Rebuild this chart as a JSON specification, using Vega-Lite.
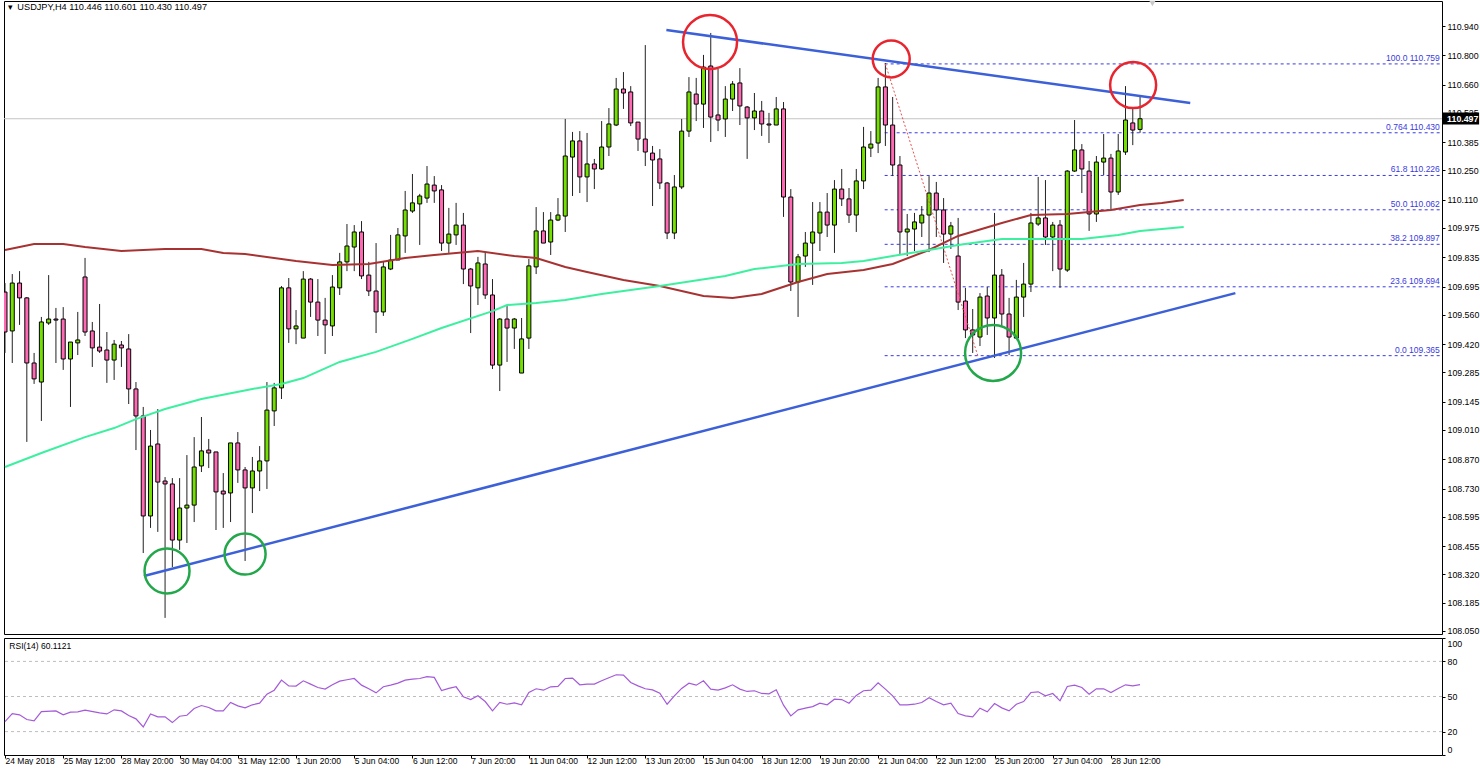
{
  "$schema": "https://vega.github.io/schema/vega-lite/v6.json",
  "background": "#ffffff",
  "padding": {"left": 0, "top": 0, "right": 0, "bottom": 0},
  "spacing": 0,
  "config": {
    "view": {"stroke": "#000000", "strokeWidth": 1},
    "font": "Liberation Sans",
    "axis": {"labelFont": "Liberation Sans", "labelColor": "#000000", "domainColor": "#000000", "tickColor": "#000000", "grid": false, "title": null, "labelOverlap": false},
    "text": {"font": "Liberation Sans"}
  },
  "datasets": {
    "candles": [
      {"i":0,"o":109.669,"h":109.712,"l":109.378,"c":109.478},
      {"i":1,"o":109.483,"h":109.755,"l":109.330,"c":109.712},
      {"i":2,"o":109.712,"h":109.769,"l":109.512,"c":109.641},
      {"i":3,"o":109.641,"h":109.645,"l":108.953,"c":109.330},
      {"i":4,"o":109.330,"h":109.378,"l":109.230,"c":109.254},
      {"i":5,"o":109.239,"h":109.550,"l":109.053,"c":109.526},
      {"i":6,"o":109.521,"h":109.750,"l":109.512,"c":109.540},
      {"i":7,"o":109.540,"h":109.593,"l":109.330,"c":109.535},
      {"i":8,"o":109.540,"h":109.597,"l":109.297,"c":109.349},
      {"i":9,"o":109.349,"h":109.430,"l":109.120,"c":109.430},
      {"i":10,"o":109.426,"h":109.574,"l":109.368,"c":109.440},
      {"i":11,"o":109.741,"h":109.832,"l":109.459,"c":109.478},
      {"i":12,"o":109.483,"h":109.526,"l":109.311,"c":109.402},
      {"i":13,"o":109.406,"h":109.612,"l":109.378,"c":109.387},
      {"i":14,"o":109.392,"h":109.478,"l":109.235,"c":109.344},
      {"i":15,"o":109.344,"h":109.440,"l":109.249,"c":109.420},
      {"i":16,"o":109.416,"h":109.435,"l":109.311,"c":109.402},
      {"i":17,"o":109.397,"h":109.468,"l":109.134,"c":109.206},
      {"i":18,"o":109.206,"h":109.239,"l":108.914,"c":109.077},
      {"i":19,"o":109.077,"h":109.120,"l":108.422,"c":108.599},
      {"i":20,"o":108.599,"h":109.010,"l":108.542,"c":108.933},
      {"i":21,"o":108.943,"h":109.110,"l":108.523,"c":108.761},
      {"i":22,"o":108.766,"h":108.785,"l":108.112,"c":108.752},
      {"i":23,"o":108.752,"h":108.780,"l":108.355,"c":108.484},
      {"i":24,"o":108.484,"h":108.780,"l":108.437,"c":108.637},
      {"i":25,"o":108.637,"h":108.890,"l":108.470,"c":108.651},
      {"i":26,"o":108.651,"h":108.976,"l":108.570,"c":108.833},
      {"i":27,"o":108.838,"h":109.072,"l":108.809,"c":108.910},
      {"i":28,"o":108.914,"h":108.967,"l":108.828,"c":108.900},
      {"i":29,"o":108.905,"h":108.905,"l":108.532,"c":108.714},
      {"i":30,"o":108.718,"h":108.804,"l":108.542,"c":108.704},
      {"i":31,"o":108.709,"h":108.948,"l":108.570,"c":108.948},
      {"i":32,"o":108.948,"h":109.000,"l":108.757,"c":108.819},
      {"i":33,"o":108.819,"h":108.833,"l":108.384,"c":108.733},
      {"i":34,"o":108.733,"h":108.881,"l":108.613,"c":108.814},
      {"i":35,"o":108.814,"h":108.933,"l":108.718,"c":108.862},
      {"i":36,"o":108.862,"h":109.239,"l":108.728,"c":109.105},
      {"i":37,"o":109.101,"h":109.235,"l":109.029,"c":109.211},
      {"i":38,"o":109.211,"h":109.698,"l":109.158,"c":109.689},
      {"i":39,"o":109.689,"h":109.736,"l":109.426,"c":109.493},
      {"i":40,"o":109.493,"h":109.583,"l":109.420,"c":109.507},
      {"i":41,"o":109.449,"h":109.769,"l":109.449,"c":109.731},
      {"i":42,"o":109.731,"h":109.736,"l":109.550,"c":109.621},
      {"i":43,"o":109.621,"h":109.731,"l":109.459,"c":109.535},
      {"i":44,"o":109.535,"h":109.641,"l":109.373,"c":109.512},
      {"i":45,"o":109.507,"h":109.750,"l":109.459,"c":109.693},
      {"i":46,"o":109.689,"h":109.856,"l":109.655,"c":109.813},
      {"i":47,"o":109.813,"h":109.994,"l":109.769,"c":109.889},
      {"i":48,"o":109.884,"h":109.989,"l":109.769,"c":109.956},
      {"i":49,"o":109.956,"h":110.008,"l":109.731,"c":109.746},
      {"i":50,"o":109.750,"h":109.813,"l":109.650,"c":109.674},
      {"i":51,"o":109.674,"h":109.903,"l":109.473,"c":109.574},
      {"i":52,"o":109.574,"h":109.813,"l":109.555,"c":109.789},
      {"i":53,"o":109.779,"h":109.942,"l":109.774,"c":109.822},
      {"i":54,"o":109.822,"h":109.975,"l":109.822,"c":109.942},
      {"i":55,"o":109.937,"h":110.152,"l":109.856,"c":110.061},
      {"i":56,"o":110.056,"h":110.233,"l":110.047,"c":110.095},
      {"i":57,"o":110.090,"h":110.138,"l":109.894,"c":110.128},
      {"i":58,"o":110.118,"h":110.271,"l":110.095,"c":110.185},
      {"i":59,"o":110.180,"h":110.223,"l":110.095,"c":110.152},
      {"i":60,"o":110.157,"h":110.180,"l":109.865,"c":109.903},
      {"i":61,"o":109.903,"h":110.071,"l":109.856,"c":109.946},
      {"i":62,"o":109.942,"h":110.095,"l":109.894,"c":109.989},
      {"i":63,"o":109.989,"h":110.047,"l":109.707,"c":109.779},
      {"i":64,"o":109.779,"h":109.784,"l":109.473,"c":109.698},
      {"i":65,"o":109.689,"h":109.837,"l":109.607,"c":109.808},
      {"i":66,"o":109.803,"h":109.860,"l":109.636,"c":109.655},
      {"i":67,"o":109.655,"h":109.731,"l":109.301,"c":109.320},
      {"i":68,"o":109.320,"h":109.545,"l":109.196,"c":109.540},
      {"i":69,"o":109.540,"h":109.602,"l":109.335,"c":109.497},
      {"i":70,"o":109.497,"h":109.545,"l":109.397,"c":109.540},
      {"i":71,"o":109.282,"h":109.545,"l":109.282,"c":109.445},
      {"i":72,"o":109.449,"h":109.827,"l":109.397,"c":109.794},
      {"i":73,"o":109.789,"h":110.075,"l":109.755,"c":109.961},
      {"i":74,"o":109.961,"h":110.051,"l":109.903,"c":109.903},
      {"i":75,"o":109.908,"h":110.051,"l":109.846,"c":110.013},
      {"i":76,"o":110.013,"h":110.118,"l":110.008,"c":110.037},
      {"i":77,"o":110.032,"h":110.496,"l":109.956,"c":110.319},
      {"i":78,"o":110.314,"h":110.434,"l":110.128,"c":110.391},
      {"i":79,"o":110.391,"h":110.438,"l":110.142,"c":110.219},
      {"i":80,"o":110.219,"h":110.429,"l":110.099,"c":110.281},
      {"i":81,"o":110.281,"h":110.305,"l":110.161,"c":110.257},
      {"i":82,"o":110.257,"h":110.486,"l":110.252,"c":110.362},
      {"i":83,"o":110.362,"h":110.548,"l":110.319,"c":110.472},
      {"i":84,"o":110.467,"h":110.692,"l":110.462,"c":110.639},
      {"i":85,"o":110.639,"h":110.720,"l":110.544,"c":110.620},
      {"i":86,"o":110.625,"h":110.653,"l":110.462,"c":110.477},
      {"i":87,"o":110.481,"h":110.481,"l":110.343,"c":110.400},
      {"i":88,"o":110.400,"h":110.849,"l":110.271,"c":110.338},
      {"i":89,"o":110.333,"h":110.367,"l":110.080,"c":110.300},
      {"i":90,"o":110.305,"h":110.352,"l":110.161,"c":110.190},
      {"i":91,"o":110.190,"h":110.195,"l":109.922,"c":109.951},
      {"i":92,"o":109.951,"h":110.228,"l":109.922,"c":110.171},
      {"i":93,"o":110.171,"h":110.496,"l":110.161,"c":110.438},
      {"i":94,"o":110.438,"h":110.696,"l":110.410,"c":110.625},
      {"i":95,"o":110.615,"h":110.692,"l":110.486,"c":110.567},
      {"i":96,"o":110.567,"h":110.802,"l":110.453,"c":110.744},
      {"i":97,"o":110.749,"h":110.907,"l":110.386,"c":110.505},
      {"i":98,"o":110.515,"h":110.735,"l":110.438,"c":110.491},
      {"i":99,"o":110.496,"h":110.653,"l":110.410,"c":110.591},
      {"i":100,"o":110.591,"h":110.677,"l":110.534,"c":110.663},
      {"i":101,"o":110.668,"h":110.739,"l":110.467,"c":110.558},
      {"i":102,"o":110.553,"h":110.558,"l":110.305,"c":110.501},
      {"i":103,"o":110.501,"h":110.620,"l":110.443,"c":110.534},
      {"i":104,"o":110.534,"h":110.582,"l":110.415,"c":110.472},
      {"i":105,"o":110.472,"h":110.525,"l":110.381,"c":110.467},
      {"i":106,"o":110.467,"h":110.601,"l":110.467,"c":110.544},
      {"i":107,"o":110.544,"h":110.577,"l":110.028,"c":110.123},
      {"i":108,"o":110.123,"h":110.161,"l":109.674,"c":109.717},
      {"i":109,"o":109.717,"h":109.851,"l":109.550,"c":109.837},
      {"i":110,"o":109.841,"h":109.956,"l":109.789,"c":109.903},
      {"i":111,"o":109.903,"h":110.099,"l":109.703,"c":109.956},
      {"i":112,"o":109.951,"h":110.099,"l":109.865,"c":110.051},
      {"i":113,"o":110.051,"h":110.142,"l":109.932,"c":109.989},
      {"i":114,"o":109.989,"h":110.204,"l":109.856,"c":110.161},
      {"i":115,"o":110.161,"h":110.257,"l":110.080,"c":110.114},
      {"i":116,"o":110.114,"h":110.166,"l":109.999,"c":110.037},
      {"i":117,"o":110.037,"h":110.257,"l":109.956,"c":110.200},
      {"i":118,"o":110.200,"h":110.458,"l":110.161,"c":110.362},
      {"i":119,"o":110.357,"h":110.438,"l":110.314,"c":110.376},
      {"i":120,"o":110.381,"h":110.692,"l":110.333,"c":110.649},
      {"i":121,"o":110.649,"h":110.763,"l":110.367,"c":110.467},
      {"i":122,"o":110.467,"h":110.601,"l":110.223,"c":110.276},
      {"i":123,"o":110.276,"h":110.319,"l":109.851,"c":109.956},
      {"i":124,"o":109.956,"h":110.042,"l":109.841,"c":109.970},
      {"i":125,"o":109.970,"h":110.047,"l":109.865,"c":110.004},
      {"i":126,"o":109.999,"h":110.080,"l":109.932,"c":110.037},
      {"i":127,"o":110.037,"h":110.223,"l":109.860,"c":110.142},
      {"i":128,"o":110.142,"h":110.195,"l":109.932,"c":110.061},
      {"i":129,"o":110.061,"h":110.118,"l":109.808,"c":109.946},
      {"i":130,"o":109.946,"h":110.004,"l":109.875,"c":109.985},
      {"i":131,"o":109.841,"h":110.023,"l":109.583,"c":109.621},
      {"i":132,"o":109.626,"h":109.689,"l":109.449,"c":109.488},
      {"i":133,"o":109.488,"h":109.588,"l":109.378,"c":109.464},
      {"i":134,"o":109.454,"h":109.664,"l":109.411,"c":109.645},
      {"i":135,"o":109.650,"h":109.693,"l":109.464,"c":109.545},
      {"i":136,"o":109.545,"h":110.047,"l":109.354,"c":109.750},
      {"i":137,"o":109.750,"h":109.779,"l":109.502,"c":109.564},
      {"i":138,"o":109.564,"h":109.641,"l":109.368,"c":109.454},
      {"i":139,"o":109.449,"h":109.727,"l":109.449,"c":109.645},
      {"i":140,"o":109.645,"h":109.808,"l":109.550,"c":109.707},
      {"i":141,"o":109.707,"h":110.047,"l":109.669,"c":109.999},
      {"i":142,"o":109.994,"h":110.219,"l":109.985,"c":110.023},
      {"i":143,"o":110.023,"h":110.204,"l":109.894,"c":109.932},
      {"i":144,"o":109.932,"h":110.004,"l":109.769,"c":109.989},
      {"i":145,"o":109.989,"h":110.013,"l":109.689,"c":109.779},
      {"i":146,"o":109.774,"h":110.252,"l":109.765,"c":110.247},
      {"i":147,"o":110.247,"h":110.491,"l":110.243,"c":110.348},
      {"i":148,"o":110.348,"h":110.376,"l":110.142,"c":110.257},
      {"i":149,"o":110.247,"h":110.295,"l":109.961,"c":110.042},
      {"i":150,"o":110.042,"h":110.319,"l":110.004,"c":110.290},
      {"i":151,"o":110.290,"h":110.424,"l":110.228,"c":110.309},
      {"i":152,"o":110.309,"h":110.329,"l":110.061,"c":110.147},
      {"i":153,"o":110.147,"h":110.424,"l":110.133,"c":110.343},
      {"i":154,"o":110.338,"h":110.653,"l":110.324,"c":110.491},
      {"i":155,"o":110.477,"h":110.544,"l":110.371,"c":110.443},
      {"i":156,"o":110.446,"h":110.601,"l":110.430,"c":110.497}
    ],
    "averages": [
      {"s":"slow","i":0,"p":109.870},{"s":"slow","i":4,"p":109.899},{"s":"slow","i":8,"p":109.899},{"s":"slow","i":11,"p":109.884},{"s":"slow","i":16,"p":109.865},{"s":"slow","i":22,"p":109.875},{"s":"slow","i":27,"p":109.875},{"s":"slow","i":30,"p":109.856},{"s":"slow","i":33,"p":109.851},{"s":"slow","i":40,"p":109.817},{"s":"slow","i":45,"p":109.798},{"s":"slow","i":50,"p":109.803},{"s":"slow","i":55,"p":109.832},{"s":"slow","i":59,"p":109.846},{"s":"slow","i":65,"p":109.865},{"s":"slow","i":70,"p":109.841},{"s":"slow","i":73,"p":109.832},{"s":"slow","i":77,"p":109.789},{"s":"slow","i":80,"p":109.765},{"s":"slow","i":85,"p":109.727},{"s":"slow","i":90,"p":109.698},{"s":"slow","i":96,"p":109.650},{"s":"slow","i":100,"p":109.641},{"s":"slow","i":104,"p":109.660},{"s":"slow","i":109,"p":109.717},{"s":"slow","i":113,"p":109.755},{"s":"slow","i":118,"p":109.774},{"s":"slow","i":122,"p":109.803},{"s":"slow","i":127,"p":109.870},{"s":"slow","i":131,"p":109.937},{"s":"slow","i":137,"p":109.999},{"s":"slow","i":141,"p":110.037},{"s":"slow","i":146,"p":110.042},{"s":"slow","i":152,"p":110.061},{"s":"slow","i":156,"p":110.085},{"s":"slow","i":159,"p":110.095},{"s":"slow","i":162,"p":110.109},
      {"s":"fast","i":0,"p":108.833},{"s":"fast","i":5,"p":108.900},{"s":"fast","i":11,"p":108.976},{"s":"fast","i":15,"p":109.019},{"s":"fast","i":18,"p":109.062},{"s":"fast","i":22,"p":109.110},{"s":"fast","i":27,"p":109.158},{"s":"fast","i":34,"p":109.206},{"s":"fast","i":38,"p":109.230},{"s":"fast","i":41,"p":109.258},{"s":"fast","i":46,"p":109.335},{"s":"fast","i":51,"p":109.383},{"s":"fast","i":56,"p":109.445},{"s":"fast","i":60,"p":109.497},{"s":"fast","i":67,"p":109.578},{"s":"fast","i":69,"p":109.607},{"s":"fast","i":73,"p":109.617},{"s":"fast","i":77,"p":109.631},{"s":"fast","i":82,"p":109.660},{"s":"fast","i":90,"p":109.698},{"s":"fast","i":99,"p":109.746},{"s":"fast","i":103,"p":109.779},{"s":"fast","i":109,"p":109.803},{"s":"fast","i":115,"p":109.808},{"s":"fast","i":118,"p":109.817},{"s":"fast","i":122,"p":109.841},{"s":"fast","i":127,"p":109.870},{"s":"fast","i":131,"p":109.894},{"s":"fast","i":137,"p":109.922},{"s":"fast","i":148,"p":109.922},{"s":"fast","i":153,"p":109.942},{"s":"fast","i":156,"p":109.961},{"s":"fast","i":162,"p":109.980}
    ],
    "trendlines": [
      {"s":"support","i":19.1,"p":108.312},{"s":"support","i":169.1,"p":109.664},
      {"s":"resistance","i":90.9,"p":110.921},{"s":"resistance","i":162.9,"p":110.572}
    ],
    "circles": [
      {"c":"r1","i":96.9,"p":110.864},
      {"c":"r2","i":121.8,"p":110.783},
      {"c":"r3","i":155.05,"p":110.658},
      {"c":"g1","i":22.27,"p":108.336},
      {"c":"g2","i":33,"p":108.417},
      {"c":"g3","i":135.8,"p":109.378}
    ],
    "fib": [
      {"i":120.9,"end":197.2,"p":110.759,"label":"100.0 110.759"},
      {"i":120.9,"end":197.2,"p":110.430,"label":"0.764 110.430"},
      {"i":120.9,"end":197.2,"p":110.226,"label":"61.8 110.226"},
      {"i":120.9,"end":197.2,"p":110.062,"label":"50.0 110.062"},
      {"i":120.9,"end":197.2,"p":109.897,"label":"38.2 109.897"},
      {"i":120.9,"end":197.2,"p":109.694,"label":"23.6 109.694"},
      {"i":120.9,"end":197.2,"p":109.365,"label":"0.0 109.365"}
    ],
    "rsi": [
      {"i":0,"v":28.6},{"i":1,"v":35.4},{"i":2,"v":34.3},{"i":3,"v":30.3},{"i":4,"v":29.1},{"i":5,"v":37.1},{"i":7,"v":37.7},{"i":8,"v":34.3},{"i":9,"v":36.6},{"i":10,"v":36.9},{"i":11,"v":38.3},{"i":13,"v":36.0},{"i":14,"v":35.1},{"i":15,"v":38.6},{"i":16,"v":37.7},{"i":17,"v":33.7},{"i":18,"v":30.9},{"i":19,"v":24.0},{"i":20,"v":35.1},{"i":21,"v":32.6},{"i":22,"v":32.6},{"i":23,"v":27.7},{"i":24,"v":33.1},{"i":25,"v":34.0},{"i":26,"v":39.7},{"i":27,"v":42.3},{"i":28,"v":40.6},{"i":29,"v":37.7},{"i":30,"v":37.7},{"i":31,"v":44.9},{"i":32,"v":42.0},{"i":33,"v":40.3},{"i":34,"v":42.9},{"i":35,"v":44.3},{"i":36,"v":52.0},{"i":37,"v":55.4},{"i":38,"v":64.0},{"i":39,"v":59.1},{"i":40,"v":58.9},{"i":41,"v":63.4},{"i":42,"v":60.6},{"i":43,"v":57.7},{"i":44,"v":56.3},{"i":45,"v":60.0},{"i":46,"v":63.1},{"i":47,"v":64.3},{"i":48,"v":65.4},{"i":49,"v":59.7},{"i":50,"v":56.6},{"i":51,"v":53.1},{"i":52,"v":58.3},{"i":53,"v":59.7},{"i":54,"v":61.4},{"i":55,"v":64.0},{"i":56,"v":64.9},{"i":57,"v":65.4},{"i":58,"v":66.9},{"i":59,"v":66.3},{"i":60,"v":55.1},{"i":61,"v":56.9},{"i":62,"v":58.3},{"i":63,"v":49.7},{"i":64,"v":47.4},{"i":65,"v":50.6},{"i":66,"v":45.7},{"i":67,"v":37.7},{"i":68,"v":44.9},{"i":69,"v":43.4},{"i":70,"v":44.6},{"i":71,"v":42.9},{"i":72,"v":53.4},{"i":73,"v":56.6},{"i":74,"v":55.4},{"i":75,"v":58.3},{"i":76,"v":58.6},{"i":77,"v":65.4},{"i":78,"v":65.7},{"i":79,"v":60.0},{"i":80,"v":60.6},{"i":81,"v":60.6},{"i":82,"v":63.5},{"i":83,"v":66.0},{"i":84,"v":68.6},{"i":85,"v":68.3},{"i":86,"v":62.0},{"i":87,"v":59.1},{"i":88,"v":56.6},{"i":89,"v":55.7},{"i":90,"v":52.9},{"i":91,"v":43.4},{"i":92,"v":50.6},{"i":93,"v":56.9},{"i":94,"v":61.4},{"i":95,"v":59.7},{"i":96,"v":63.4},{"i":97,"v":56.3},{"i":98,"v":55.4},{"i":99,"v":57.4},{"i":100,"v":60.0},{"i":101,"v":56.3},{"i":102,"v":54.3},{"i":103,"v":54.9},{"i":104,"v":52.6},{"i":105,"v":52.3},{"i":106,"v":55.7},{"i":107,"v":42.6},{"i":108,"v":33.4},{"i":109,"v":38.6},{"i":110,"v":40.0},{"i":111,"v":41.4},{"i":112,"v":44.3},{"i":113,"v":42.9},{"i":114,"v":47.7},{"i":115,"v":47.4},{"i":116,"v":44.3},{"i":117,"v":50.9},{"i":118,"v":54.9},{"i":119,"v":55.4},{"i":120,"v":61.7},{"i":121,"v":56.3},{"i":122,"v":50.6},{"i":123,"v":42.9},{"i":124,"v":42.9},{"i":125,"v":43.4},{"i":126,"v":44.9},{"i":127,"v":48.9},{"i":128,"v":45.7},{"i":129,"v":42.9},{"i":130,"v":44.3},{"i":131,"v":35.4},{"i":132,"v":33.4},{"i":133,"v":32.6},{"i":134,"v":40.0},{"i":135,"v":36.9},{"i":136,"v":44.0},{"i":137,"v":40.3},{"i":138,"v":37.7},{"i":139,"v":43.4},{"i":140,"v":45.7},{"i":141,"v":53.4},{"i":142,"v":54.0},{"i":143,"v":50.6},{"i":144,"v":52.6},{"i":145,"v":46.3},{"i":146,"v":58.6},{"i":147,"v":59.7},{"i":148,"v":57.7},{"i":149,"v":52.0},{"i":150,"v":56.6},{"i":151,"v":56.6},{"i":152,"v":53.4},{"i":153,"v":56.9},{"i":154,"v":60.0},{"i":155,"v":59.1},{"i":156,"v":60.1121}
    ]
  },
  "vconcat": [
    {
      "width": 1438,
      "height": 633,
      "layer": [
        {
          "data": {"values": [{"p": 110.497}]},
          "mark": {"type": "rule", "color": "#c4c4c4", "strokeWidth": 1},
          "encoding": {
            "y": {
              "field": "p", "type": "quantitative",
              "scale": {"domain": [108.0351, 111.0596], "nice": false, "zero": false},
              "axis": {
                "orient": "right", "title": null, "domain": false, "tickSize": 3, "tickCount": 40, "labelFontSize": 8.8, "labelPadding": 2, "format": ".3f",
                "values": [110.94, 110.8, 110.66, 110.525, 110.385, 110.25, 110.11, 109.975, 109.835, 109.695, 109.56, 109.42, 109.285, 109.145, 109.01, 108.87, 108.73, 108.595, 108.455, 108.32, 108.185, 108.05]
              }
            }
          }
        },
        {
          "data": {"name": "fib"},
          "mark": {"type": "rule", "color": "#3a3ae0", "strokeWidth": 1, "strokeDash": [3, 3]},
          "encoding": {
            "x": {"field": "i", "type": "quantitative", "scale": {"domain": [-0.137, 197.5], "nice": false, "zero": false, "padding": 0}, "axis": null},
            "x2": {"field": "end"},
            "y": {"field": "p", "type": "quantitative"}
          }
        },
        {
          "data": {"name": "candles"},
          "mark": {"type": "rule", "color": "#222222", "strokeWidth": 1, "clip": true},
          "encoding": {
            "x": {"field": "i", "type": "quantitative", "axis": null},
            "y": {"field": "l", "type": "quantitative"},
            "y2": {"field": "h"}
          }
        },
        {
          "data": {"name": "candles"},
          "mark": {"type": "bar", "size": 4, "stroke": "#000000", "strokeWidth": 1, "orient": "vertical", "clip": true},
          "encoding": {
            "x": {"field": "i", "type": "quantitative", "axis": null},
            "y": {"field": "o", "type": "quantitative"},
            "y2": {"field": "c"},
            "color": {
              "condition": {"test": "datum.c > datum.o", "value": "#74e000"},
              "value": "#ff69b4"
            }
          }
        },
        {
          "data": {"values": [{"i": 121, "p": 110.759}, {"i": 133.7, "p": 109.365}]},
          "mark": {"type": "line", "color": "#e85050", "strokeWidth": 1, "strokeDash": [2, 2]},
          "encoding": {
            "x": {"field": "i", "type": "quantitative", "axis": null},
            "y": {"field": "p", "type": "quantitative"}
          }
        },
        {
          "data": {"name": "averages"},
          "mark": {"type": "line", "strokeWidth": 2},
          "encoding": {
            "x": {"field": "i", "type": "quantitative", "axis": null},
            "y": {"field": "p", "type": "quantitative"},
            "detail": {"field": "s"},
            "color": {"field": "s", "type": "nominal", "legend": null, "scale": {"domain": ["slow", "fast"], "range": ["#a83232", "#3df0a0"]}}
          }
        },
        {
          "data": {"name": "trendlines"},
          "mark": {"type": "line", "color": "#3c60d8", "strokeWidth": 2.5},
          "encoding": {
            "x": {"field": "i", "type": "quantitative", "axis": null},
            "y": {"field": "p", "type": "quantitative"},
            "detail": {"field": "s"}
          }
        },
        {
          "data": {"name": "circles"},
          "mark": {"type": "point", "shape": "circle", "filled": false, "strokeWidth": 2.5, "opacity": 1},
          "encoding": {
            "x": {"field": "i", "type": "quantitative", "axis": null},
            "y": {"field": "p", "type": "quantitative"},
            "stroke": {"field": "c", "type": "nominal", "legend": null, "scale": {"domain": ["r1", "r2", "r3", "g1", "g2", "g3"], "range": ["#e8252f", "#e8252f", "#e8252f", "#22a84a", "#22a84a", "#22a84a"]}},
            "size": {"field": "c", "type": "nominal", "legend": null, "scale": {"type": "ordinal", "domain": ["r1", "r2", "r3", "g1", "g2", "g3"], "range": [2916, 1369, 2116, 2025, 1681, 3136]}}
          }
        },
        {
          "data": {"name": "fib"},
          "mark": {"type": "text", "align": "right", "baseline": "bottom", "color": "#3a3ae0", "fontSize": 8.5, "dy": -1},
          "encoding": {
            "x": {"field": "end", "type": "quantitative", "axis": null},
            "y": {"field": "p", "type": "quantitative"},
            "text": {"field": "label"}
          }
        },
        {
          "data": {"values": [{"i": 1.7, "p": 111.031, "label": "USDJPY,H4  110.446 110.601 110.430 110.497"}, {"i": 0.45, "p": 111.031, "label": "▾"}]},
          "mark": {"type": "text", "align": "left", "baseline": "middle", "color": "#000000", "fontSize": 9.2},
          "encoding": {
            "x": {"field": "i", "type": "quantitative", "axis": null},
            "y": {"field": "p", "type": "quantitative"},
            "text": {"field": "label"}
          }
        },
        {
          "data": {"values": [{"i": 157.7, "p": 111.048}]},
          "mark": {"type": "point", "shape": "triangle-down", "filled": true, "color": "#c8c8c8", "size": 40, "opacity": 1},
          "encoding": {
            "x": {"field": "i", "type": "quantitative", "axis": null},
            "y": {"field": "p", "type": "quantitative"}
          }
        },
        {
          "data": {"values": [{"i": 197.6, "end": 202.6, "low": 110.469, "high": 110.527}]},
          "mark": {"type": "rect", "color": "#000000"},
          "encoding": {
            "x": {"field": "i", "type": "quantitative", "axis": null},
            "x2": {"field": "end"},
            "y": {"field": "low", "type": "quantitative"},
            "y2": {"field": "high"}
          }
        },
        {
          "data": {"values": [{"i": 198.2, "p": 110.497, "label": "110.497"}]},
          "mark": {"type": "text", "align": "left", "baseline": "middle", "color": "#ffffff", "fontSize": 8.8, "fontWeight": "bold"},
          "encoding": {
            "x": {"field": "i", "type": "quantitative", "axis": null},
            "y": {"field": "p", "type": "quantitative"},
            "text": {"field": "label"}
          }
        }
      ]
    },
    {
      "width": 1438,
      "height": 117,
      "layer": [
        {
          "data": {"values": [{"v": 80}, {"v": 50}, {"v": 20}]},
          "mark": {"type": "rule", "color": "#bdbdbd", "strokeWidth": 1, "strokeDash": [3, 3]},
          "encoding": {
            "y": {
              "field": "v", "type": "quantitative",
              "scale": {"domain": [0, 100], "nice": false},
              "axis": {
                "orient": "right", "title": null, "domain": false, "tickSize": 3, "tickCount": 10, "labelFontSize": 8.8, "labelPadding": 2,
                "values": [100, 80, 50, 20, 0],
                "labelOffset": {"condition": [{"test": "datum.value == 100", "value": 5}, {"test": "datum.value == 0", "value": -6}], "value": 0}
              }
            }
          }
        },
        {
          "data": {"name": "rsi"},
          "mark": {"type": "line", "color": "#a45ad8", "strokeWidth": 1.2},
          "encoding": {
            "x": {
              "field": "i", "type": "quantitative",
              "scale": {"domain": [-0.137, 197.5], "nice": false, "zero": false},
              "axis": {
                "orient": "bottom", "title": null, "domain": false, "tickSize": 3, "labelFontSize": 8.5, "labelAlign": "left", "labelPadding": -2, "labelFlush": false, "labelBound": false,
                "values": [0, 8, 16, 24, 32, 40, 48, 56, 64, 72, 80, 88, 96, 104, 112, 120, 128, 136, 144, 152],
                "labelExpr": "['24 May 2018','25 May 12:00','28 May 20:00','30 May 04:00','31 May 12:00','1 Jun 20:00','5 Jun 04:00','6 Jun 12:00','7 Jun 20:00','11 Jun 04:00','12 Jun 12:00','13 Jun 20:00','15 Jun 04:00','18 Jun 12:00','19 Jun 20:00','21 Jun 04:00','22 Jun 12:00','25 Jun 20:00','27 Jun 04:00','28 Jun 12:00'][datum.value / 8]"
              }
            },
            "y": {"field": "v", "type": "quantitative"}
          }
        },
        {
          "data": {"values": [{"i": 0.6, "v": 93.5, "label": "RSI(14) 60.1121"}]},
          "mark": {"type": "text", "align": "left", "baseline": "middle", "color": "#000000", "fontSize": 8.5},
          "encoding": {
            "x": {"field": "i", "type": "quantitative"},
            "y": {"field": "v", "type": "quantitative"},
            "text": {"field": "label"}
          }
        }
      ]
    }
  ]
}
